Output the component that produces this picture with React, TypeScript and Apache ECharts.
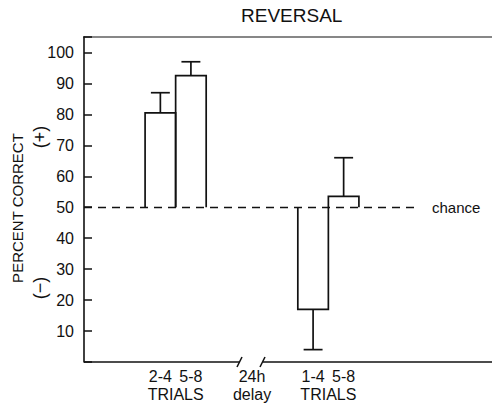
import React, { useEffect, useRef } from "react";
import * as echarts from "echarts";

const TITLE = "REVERSAL";
const Y_NAME = "PERCENT CORRECT";
const PLUS_LABEL = "(+)";
const MINUS_LABEL = "(\u2212)";
const CHANCE = 50;
const CHANCE_LABEL = "chance";
const xCategories = ["", "", "2-4", "5-8", "", "24h\ndelay", "", "1-4", "5-8", "", ""];
const groupLabels = ["", "", "", "TRIALS", "", "", "", "", "TRIALS", "", "", ""];
const percentCorrect: (number | null)[] = [null, null, 80.5, 92.5, null, null, null, 17, 53.5, null, null];
const errorEnd: (number | null)[] = [null, null, 87, 97, null, null, null, 4, 66, null, null];
const yTickValues = [10, 20, 30, 40, 50, 60, 70, 80, 90, 100];

const FONT = "Liberation Sans";
const INK = "#111";

export default function App() {
  const ref = useRef<HTMLDivElement>(null);
  useEffect(() => {
    if (!ref.current) return;
    const chart = echarts.init(ref.current, undefined, { renderer: "svg" });
    const data: number[][] = [];
    percentCorrect.forEach((v, i) => {
      if (v != null && errorEnd[i] != null) data.push([i, v, errorEnd[i] as number]);
    });
    const lineStyle = { stroke: INK, lineWidth: 1.7, fill: "none" };
    chart.setOption({
      animation: false,
      backgroundColor: "#fff",
      title: {
        text: TITLE,
        left: 241,
        top: 6,
        padding: 0,
        textStyle: { fontSize: 19, fontWeight: "normal", color: INK, fontFamily: FONT },
      },
      grid: { left: 84, top: 37, right: 72, bottom: 49, containLabel: false },
      xAxis: [
        {
          type: "category",
          data: xCategories,
          position: "bottom",
          axisLine: { show: false },
          axisTick: { show: false },
          axisLabel: {
            interval: 0,
            margin: 5,
            fontSize: 16,
            lineHeight: 18,
            color: INK,
            fontFamily: FONT,
          },
        },
        {
          type: "category",
          data: groupLabels,
          position: "bottom",
          offset: 18,
          boundaryGap: false,
          axisLine: { show: false },
          axisTick: { show: false },
          axisLabel: {
            interval: 0,
            margin: 5,
            fontSize: 16,
            lineHeight: 18,
            color: INK,
            fontFamily: FONT,
          },
        },
      ],
      yAxis: {
        type: "value",
        min: 0,
        max: 105,
        interval: 10,
        splitLine: { show: false },
        axisLine: { show: true, lineStyle: { color: INK, width: 1.6 } },
        axisTick: { show: true, inside: true, length: 8, lineStyle: { color: INK, width: 1.5 } },
        axisLabel: {
          margin: 10,
          fontSize: 16,
          color: INK,
          fontFamily: FONT,
          formatter: (v: number) => (yTickValues.includes(v) ? String(v) : ""),
        },
      },
      series: [
        {
          type: "custom",
          xAxisIndex: 0,
          yAxisIndex: 0,
          data,
          encode: { x: 0, y: 1 },
          renderItem: (params: any, api: any) => {
            const idx = api.value(0);
            const v = api.value(1);
            const e = api.value(2);
            const top = api.coord([idx, v]);
            const base = api.coord([idx, CHANCE]);
            const err = api.coord([idx, e]);
            const w = api.size([1, 0])[0];
            const half = w / 2;
            const cap = w * 0.31;
            const xl = top[0] - half;
            const xr = top[0] + half;
            return {
              type: "group",
              children: [
                {
                  type: "polyline",
                  shape: { points: [[xl, base[1]], [xl, top[1]], [xr, top[1]], [xr, base[1]]] },
                  style: lineStyle,
                },
                {
                  type: "line",
                  shape: { x1: top[0], y1: top[1], x2: top[0], y2: err[1] },
                  style: lineStyle,
                },
                {
                  type: "line",
                  shape: { x1: top[0] - cap, y1: err[1], x2: top[0] + cap, y2: err[1] },
                  style: lineStyle,
                },
              ],
            };
          },
          markLine: {
            silent: true,
            symbol: "none",
            data: [{ yAxis: CHANCE }],
            lineStyle: { color: INK, type: [8, 6], width: 1.3 },
            label: {
              show: true,
              position: "end",
              formatter: CHANCE_LABEL,
              distance: 12,
              color: INK,
              fontSize: 15,
              fontFamily: FONT,
            },
          },
        },
      ],
      graphic: [
        { type: "line", shape: { x1: 83, y1: 37, x2: 492, y2: 37 }, style: { stroke: INK, lineWidth: 1.2 } },
        { type: "line", shape: { x1: 84, y1: 362, x2: 240, y2: 362 }, style: { stroke: INK, lineWidth: 1.5 } },
        { type: "line", shape: { x1: 237, y1: 367, x2: 242, y2: 357 }, style: { stroke: INK, lineWidth: 1.5 } },
        { type: "line", shape: { x1: 260, y1: 367, x2: 265, y2: 357 }, style: { stroke: INK, lineWidth: 1.5 } },
        { type: "line", shape: { x1: 263, y1: 362, x2: 492, y2: 362 }, style: { stroke: INK, lineWidth: 1.5 } },
        {
          type: "text",
          x: 17.5,
          y: 208,
          rotation: Math.PI / 2,
          style: { text: Y_NAME, fontSize: 15, fontFamily: FONT, fill: INK, align: "center", verticalAlign: "middle" },
        },
        {
          type: "text",
          x: 39.5,
          y: 137,
          rotation: Math.PI / 2,
          style: { text: PLUS_LABEL, fontSize: 18, fontFamily: FONT, fill: INK, align: "center", verticalAlign: "middle" },
        },
        {
          type: "text",
          x: 40,
          y: 288,
          rotation: Math.PI / 2,
          style: { text: MINUS_LABEL, fontSize: 18, fontFamily: FONT, fill: INK, align: "center", verticalAlign: "middle" },
        },
      ],
    });
    return () => chart.dispose();
  }, []);
  return <div ref={ref} style={{ position: "fixed", left: 0, top: 0, width: 492, height: 411 }} />;
}
